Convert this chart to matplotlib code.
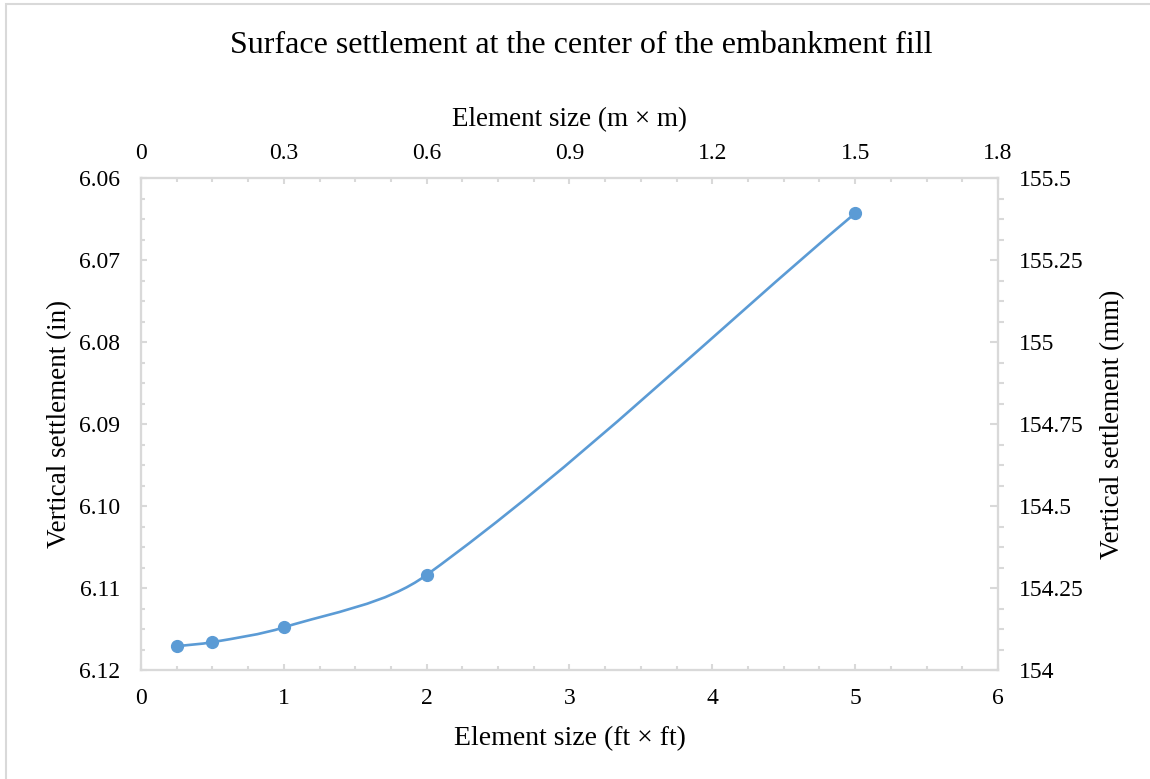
import matplotlib.pyplot as plt
import numpy as np
from matplotlib.path import Path
from matplotlib.patches import PathPatch, Rectangle
from matplotlib.ticker import MultipleLocator, FormatStrFormatter

plt.rcParams['font.family'] = ['Liberation Serif', 'DejaVu Serif']

# data
size_ft = [0.25, 0.5, 1, 2, 5]
settle_in = [6.1171, 6.1166, 6.1148, 6.1084, 6.0643]

title = "Surface settlement at the center of the embankment fill"
grey = "#d9d9d9"
blue = "#5b9bd5"

fig = plt.figure(figsize=(11.5, 7.79), dpi=100)
# outer frame, only left and top edges are inside the picture
fig.patches.append(Rectangle((0.0055, -0.1), 1.1, 1.0945, transform=fig.transFigure,
                             fill=False, edgecolor=grey, linewidth=1.5))
ax = fig.add_axes([0.1226, 0.1399, 0.7452, 0.6316])

ax.set_xlim(0, 6)
ax.set_ylim(6.12, 6.06)

# smoothed line like excel: bezier through the points, tangents worked out in screen units
sx = 857 / 6.0
sy = 492 / 0.06
pts = np.column_stack([np.array(size_ft) * sx, np.array(settle_in) * -sy])
n = len(pts)
tang = []
for i in range(n):
    d = pts[min(i + 1, n - 1)] - pts[max(i - 1, 0)]
    tang.append(d / np.hypot(*d))
verts = [pts[0]]
codes = [Path.MOVETO]
for i in range(n - 1):
    L = np.hypot(*(pts[i + 1] - pts[i]))
    verts += [pts[i] + tang[i] * L / 3, pts[i + 1] - tang[i + 1] * L / 3, pts[i + 1]]
    codes += [Path.CURVE4] * 3
verts = np.array(verts)
verts[:, 0] /= sx
verts[:, 1] /= -sy
ax.add_patch(PathPatch(Path(verts, codes), facecolor='none', edgecolor=blue, linewidth=1.9, zorder=3))
ax.plot(size_ft, settle_in, linestyle='none', marker='o', markersize=8.5, color=blue, zorder=4)

ax.xaxis.set_major_locator(MultipleLocator(1))
ax.xaxis.set_minor_locator(MultipleLocator(0.25))
ax.yaxis.set_major_locator(MultipleLocator(0.01))
ax.yaxis.set_minor_locator(MultipleLocator(0.0025))
ax.yaxis.set_major_formatter(FormatStrFormatter('%.2f'))
ax.set_xlabel("Element size (ft × ft)", fontsize=20, labelpad=12)
ax.set_ylabel("Vertical settlement (in)", fontsize=19.5, labelpad=5)

axr = ax.twinx()
axr.set_ylim(154, 155.5)
axr.yaxis.set_major_locator(MultipleLocator(0.25))
axr.yaxis.set_minor_locator(MultipleLocator(0.0625))
axr.yaxis.set_major_formatter(lambda v, p: f"{v:g}")
axr.set_ylabel("Vertical settlement (mm)", fontsize=19.5, labelpad=12)

axt = ax.twiny()
axt.set_xlim(0, 1.8)
axt.xaxis.set_major_locator(MultipleLocator(0.3))
axt.xaxis.set_minor_locator(MultipleLocator(0.075))
axt.xaxis.set_major_formatter(lambda v, p: f"{v:g}")
axt.set_xlabel("Element size (m × m)", fontsize=19.5, labelpad=12)

for a in (ax, axr, axt):
    for s in a.spines.values():
        s.set_color(grey)
        s.set_linewidth(1.5)

ax.tick_params(which='both', direction='in', color=grey, width=1.5, labelsize=17)
ax.tick_params(axis='x', pad=13)
ax.tick_params(axis='y', pad=15)
ax.tick_params(which='major', length=4.5)
ax.tick_params(which='minor', length=3.2)
axt.tick_params(which='both', direction='in', color=grey, width=1.5, labelsize=17, pad=10)
axt.tick_params(which='major', length=4.5)
axt.tick_params(which='minor', length=3.2)
axr.tick_params(which='major', direction='in', length=6, color=grey, width=1.5, labelsize=17, pad=15)
axr.tick_params(which='minor', direction='out', length=4, color=grey, width=1.5)

fig.text(0.505, 0.942, title, ha='center', va='center', fontsize=23)

fig.savefig("out.png", dpi=100)
